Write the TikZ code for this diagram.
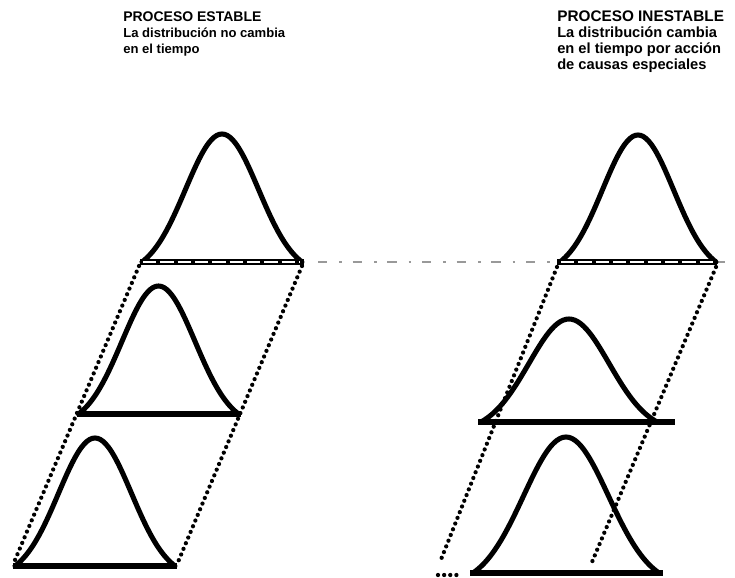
\documentclass[tikz,border=0pt]{standalone}
\usepackage{fontspec}
\setmainfont{Liberation Sans}
\usepackage{tikz}
\usetikzlibrary{calc}

\begin{document}
\begin{tikzpicture}[x=0.75pt, y=-0.75pt,
  declare function={bell(\t)=(exp(-2.4*\t*\t)-exp(-2.4))/(1-exp(-2.4));},
  curve/.style={line width=3.8pt, line join=round, line cap=round},
  base/.style={line width=4.2pt},
  edge/.style={line width=3.2pt, dash pattern=on 0pt off 4.6pt, line cap=round},
  scan/.style={black!40, line width=0.8pt, dash pattern=on 7pt off 9pt on 2pt off 8pt},
  head/.style={anchor=north west, align=left, inner sep=0pt, font=\bfseries}]
\useasboundingbox (0,0) rectangle (735,578);
% titles
\node[head] (stable) at (123,11) {\fontsize{10.5}{12}\selectfont PROCESO ESTABLE\\
  \fontsize{9.8}{12}\selectfont La distribución no cambia\\
  \fontsize{9.8}{11.5}\selectfont en el tiempo};
\node[head] (unstable) at (557,11) {\fontsize{11.5}{12}\selectfont PROCESO INESTABLE\\
  \fontsize{11}{12}\selectfont La distribución cambia\\
  \fontsize{11}{11.5}\selectfont en el tiempo por acción\\
  \fontsize{11}{11.5}\selectfont de causas especiales};
% faint scan line between the two top bases
\coordinate (s1) at (318,262);
\coordinate (s2) at (558,262);
\coordinate (s3) at (716,262);
\coordinate (s4) at (735,262);
\draw[scan] (s1) -- (s2);
\draw[scan] (s3) -- (s4);
% stable process: same bell shifted down and left
\foreach \i in {0,1,2}{
  \pgfmathsetmacro{\cx}{222-63.5*\i}
  \pgfmathsetmacro{\by}{262+152*\i}
  \draw[curve] plot[domain=-1:1, samples=61, smooth] ({\cx+80*\x}, {\by-128*bell(\x)});
  \draw[base] (\cx-82,\by) -- (\cx+82,\by);
}
\draw[white, line width=0.8pt, dash pattern=on 10pt off 3pt] (143,262) -- (300,262);
\coordinate (la) at (139,266);
\coordinate (lb) at (15,560);
\coordinate (ra) at (302,266);
\coordinate (rb) at (178,562);
\draw[edge] (la) -- (lb);
\draw[edge] (ra) -- (rb);
% unstable process: bells move and widen
\draw[curve] plot[domain=-1:1, samples=61, smooth] ({638+78*\x}, {262-127*bell(\x)});
\draw[base] (557,262) -- (717,262);
\draw[white, line width=0.8pt, dash pattern=on 10pt off 3pt] (561,262) -- (713,262);
\draw[curve] plot[domain=-1:1, samples=61, smooth] ({569+88*\x}, {422-103*bell(\x)});
\draw[base] (478,422) -- (675,422);
\draw[curve] plot[domain=-1:1, samples=61, smooth] ({566+93*\x}, {573-136*bell(\x)});
\draw[base] (470,573) -- (663,573);
\coordinate (pa) at (557,267);
\coordinate (pb) at (440,562);
\coordinate (pc) at (438,575);
\coordinate (pd) at (461,575);
\coordinate (qa) at (716,267);
\coordinate (qb) at (592,562);
\draw[edge] (pa) -- (pb);
\draw[edge] (pc) -- (pd);
\draw[edge] (qa) -- (qb);
\end{tikzpicture}
\end{document}
